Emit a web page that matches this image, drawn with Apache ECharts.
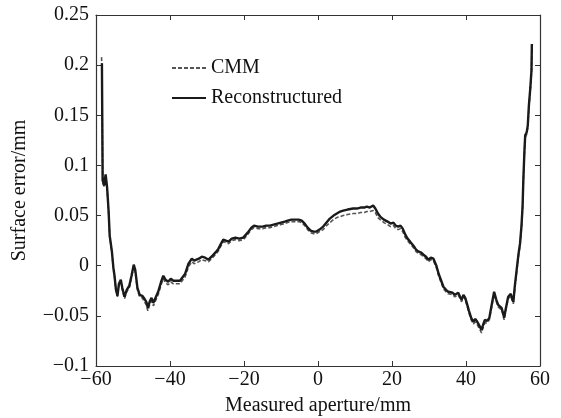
<!DOCTYPE html>
<html>
<head>
<meta charset="utf-8">
<script src="https://cdn.jsdelivr.net/npm/echarts@6/dist/echarts.min.js"></script>
<style>
html,body{margin:0;padding:0;background:#fff;}
#chart{width:561px;height:418px;}
</style>
</head>
<body>
<div id="chart"></div>
<script>
// aperture positions (mm)
var aperture = [-58.5,-58.4,-58.2,-57.8,-57.4,-57.0,-56.6,-56.3,-56.0,-55.7,-55.3,-55.0,-54.6,-54.2,-53.8,-53.3,-52.9,-52.3,-51.7,-51.0,-50.4,-49.8,-49.4,-48.8,-48.2,-47.5,-46.9,-46.4,-46.0,-45.5,-45.0,-44.5,-44.0,-43.2,-42.4,-41.8,-41.2,-40.5,-39.8,-39.1,-38.3,-37.3,-36.5,-35.9,-35.0,-34.1,-33.5,-33.0,-32.2,-31.4,-30.5,-29.6,-28.5,-27.5,-26.9,-26.2,-25.6,-24.9,-24.2,-23.3,-22.3,-21.3,-20.2,-19.0,-18.0,-17.3,-16.2,-15.0,-14.0,-13.0,-12.0,-11.0,-10.0,-9.0,-8.2,-7.2,-6.2,-5.2,-4.4,-3.6,-2.8,-2.0,-1.2,-0.4,0.4,1.4,2.3,3.2,4.2,5.1,6.0,6.8,8.0,9.5,10.5,11.5,12.5,13.2,14.0,14.9,15.5,16.2,16.8,17.8,18.8,19.6,20.4,21.0,21.7,22.3,22.9,23.6,24.2,24.9,25.8,26.5,27.2,27.9,28.5,29.2,29.8,30.5,31.2,32.0,32.6,33.3,33.9,34.6,35.2,35.7,36.4,37.0,37.5,37.9,38.4,38.8,39.3,39.8,40.2,40.8,41.4,42.0,42.5,42.9,43.5,44.2,44.7,45.1,45.7,46.3,46.9,47.6,48.2,48.7,49.2,49.6,50.0,50.3,50.8,51.4,52.1,52.5,52.8,53.2,53.7,54.2,54.6,55.0,55.3,55.5,55.8,56.0,56.4,56.7,57.0,57.4,57.7,57.8];

// surface error (mm)
var reconstructed = [null,0.202,0.085,0.080,0.091,0.078,0.055,0.030,0.022,0.014,-0.002,-0.010,-0.024,-0.030,-0.018,-0.014,-0.022,-0.031,-0.024,-0.020,-0.010,0.001,-0.004,-0.022,-0.029,-0.030,-0.033,-0.036,-0.042,-0.036,-0.032,-0.037,-0.038,-0.026,-0.016,-0.010,-0.014,-0.016,-0.013,-0.015,-0.015,-0.015,-0.011,-0.008,0.002,0.007,0.005,0.004,0.007,0.009,0.008,0.006,0.010,0.014,0.017,0.022,0.026,0.025,0.024,0.027,0.028,0.027,0.028,0.033,0.038,0.040,0.039,0.039,0.040,0.040,0.041,0.042,0.043,0.044,0.045,0.046,0.046,0.046,0.045,0.042,0.038,0.035,0.034,0.034,0.036,0.039,0.043,0.047,0.050,0.052,0.054,0.055,0.056,0.057,0.057,0.058,0.058,0.059,0.058,0.060,0.057,0.052,0.049,0.046,0.044,0.042,0.043,0.040,0.039,0.040,0.037,0.031,0.027,0.024,0.020,0.016,0.014,0.013,0.011,0.009,0.006,0.008,0.007,0.000,-0.008,-0.015,-0.021,-0.024,-0.026,-0.027,-0.027,-0.029,-0.028,-0.027,-0.031,-0.034,-0.029,-0.032,-0.037,-0.045,-0.052,-0.056,-0.053,-0.055,-0.059,-0.064,-0.058,-0.054,-0.055,-0.052,-0.040,-0.026,-0.034,-0.039,-0.040,-0.042,-0.047,-0.052,-0.042,-0.031,-0.028,-0.033,-0.036,-0.020,-0.004,0.012,0.022,0.040,0.060,0.086,0.115,0.130,0.133,0.140,0.160,0.178,0.195,0.221];

var cmm = [0.208,0.196,0.083,0.079,0.089,0.077,0.053,0.029,0.021,0.013,-0.003,-0.011,-0.025,-0.031,-0.019,-0.016,-0.024,-0.033,-0.026,-0.022,-0.012,-0.001,-0.006,-0.024,-0.031,-0.032,-0.036,-0.039,-0.045,-0.039,-0.035,-0.040,-0.041,-0.029,-0.019,-0.013,-0.017,-0.019,-0.016,-0.018,-0.018,-0.018,-0.014,-0.011,-0.001,0.004,0.002,0.001,0.004,0.006,0.005,0.004,0.008,0.012,0.015,0.020,0.024,0.023,0.022,0.025,0.026,0.025,0.026,0.031,0.036,0.038,0.037,0.037,0.038,0.038,0.039,0.040,0.041,0.042,0.043,0.044,0.044,0.044,0.043,0.040,0.036,0.033,0.032,0.032,0.034,0.036,0.040,0.043,0.046,0.048,0.049,0.050,0.051,0.052,0.052,0.053,0.053,0.054,0.054,0.055,0.053,0.048,0.046,0.043,0.041,0.039,0.040,0.037,0.036,0.037,0.034,0.028,0.025,0.022,0.018,0.014,0.012,0.011,0.009,0.007,0.004,0.006,0.005,-0.002,-0.010,-0.017,-0.023,-0.026,-0.028,-0.029,-0.029,-0.031,-0.030,-0.029,-0.033,-0.036,-0.031,-0.034,-0.039,-0.047,-0.054,-0.058,-0.056,-0.058,-0.062,-0.067,-0.061,-0.057,-0.057,-0.054,-0.042,-0.028,-0.036,-0.041,-0.042,-0.044,-0.049,-0.054,-0.044,-0.033,-0.030,-0.035,-0.038,-0.022,-0.006,0.010,0.020,0.038,0.058,0.084,0.113,0.128,0.131,0.138,0.158,0.176,0.193,0.217];

var xTicks = [-60, 60, 20];
var yTicks = [-0.1, 0.25, 0.05];

function pairs(ys){
    var out = [];
    for (var i = 0; i < aperture.length; i++) {
        if (ys[i] != null) out.push([aperture[i], ys[i]]);
    }
    return out;
}
function fmt(v){
    var s = String(Math.round(v * 1000) / 1000);
    return s.replace('-', '\u2212');
}

var font = 'Liberation Serif';
var fs = 20;
var axisColor = '#333';
var dom = document.getElementById('chart');
var myChart = echarts.init(dom);
var option = {
    backgroundColor: '#fff',
    animation: false,
    textStyle: { fontFamily: font, color: '#111' },
    grid: { left: 96, right: 21, top: 15, bottom: 52, outerBoundsMode: 'none', containLabel: false },
    legend: {
        orient: 'vertical',
        left: 166,
        top: 53,
        itemWidth: 34,
        itemHeight: 14,
        itemGap: 10,
        itemStyle: { opacity: 0 },
        textStyle: { fontFamily: font, fontSize: fs, color: '#111' },
        data: ['CMM', 'Reconstructured']
    },
    xAxis: [
        {
            type: 'value', min: xTicks[0], max: xTicks[1], interval: xTicks[2],
            name: 'Measured aperture/mm', nameLocation: 'middle', nameGap: 30,
            nameTextStyle: { fontFamily: font, fontSize: fs, color: '#111' },
            axisLine: { onZero: false, lineStyle: { color: axisColor, width: 1.2 } },
            axisTick: { inside: true, length: 5, lineStyle: { color: axisColor } },
            axisLabel: { fontFamily: font, fontSize: fs, color: '#111', margin: 4, formatter: fmt },
            splitLine: { show: false }
        },
        {
            type: 'value', position: 'top', min: xTicks[0], max: xTicks[1], interval: xTicks[2],
            axisLine: { onZero: false, lineStyle: { color: axisColor, width: 1.2 } },
            axisTick: { inside: true, length: 5, lineStyle: { color: axisColor } },
            axisLabel: { show: false },
            splitLine: { show: false }
        }
    ],
    yAxis: [
        {
            type: 'value', min: yTicks[0], max: yTicks[1], interval: yTicks[2],
            name: 'Surface error/mm', nameLocation: 'middle', nameGap: 66,
            nameTextStyle: { fontFamily: font, fontSize: fs, color: '#111' },
            axisLine: { show: true, onZero: false, lineStyle: { color: axisColor, width: 1.2 } },
            axisTick: { show: true, inside: true, length: 5, lineStyle: { color: axisColor } },
            axisLabel: { fontFamily: font, fontSize: fs, color: '#111', margin: 7, formatter: fmt },
            splitLine: { show: false }
        },
        {
            type: 'value', position: 'right', min: yTicks[0], max: yTicks[1], interval: yTicks[2],
            axisLine: { show: true, onZero: false, lineStyle: { color: axisColor, width: 1.2 } },
            axisTick: { show: true, inside: true, length: 5, lineStyle: { color: axisColor } },
            axisLabel: { show: false },
            splitLine: { show: false }
        }
    ],
    series: [
        {
            name: 'CMM', type: 'line', symbol: 'none',
            lineStyle: { color: '#555', width: 1.6, type: [4, 2] },
            itemStyle: { color: '#555' },
            data: pairs(cmm), z: 2
        },
        {
            name: 'Reconstructured', type: 'line', symbol: 'none',
            lineStyle: { color: '#1a1a1a', width: 2.4 },
            itemStyle: { color: '#1a1a1a' },
            data: pairs(reconstructed), z: 3
        }
    ]
};
myChart.setOption(option);
</script>
</body>
</html>
